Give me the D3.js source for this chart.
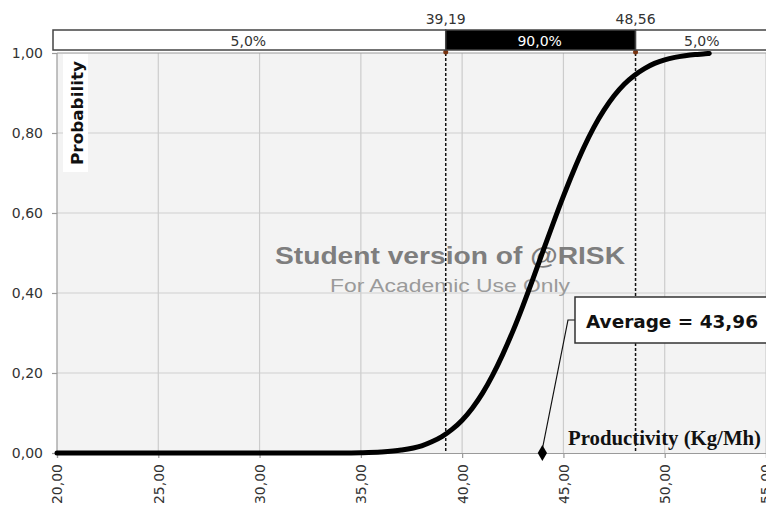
<!DOCTYPE html>
<html><head><meta charset="utf-8">
<script src="https://cdn.jsdelivr.net/npm/d3@7"></script>
<style>body{margin:0;background:#fff}svg{display:block}</style>
</head><body>
<svg id="c" width="766" height="508"></svg>
<script>
// ---- data ----
const xVals = [20, 30, 34, 35, 36, 37, 38, 38.5, 39, 39.5, 40, 40.5, 41, 41.5, 42, 42.5, 43, 43.5, 44, 44.5, 45, 45.5, 46, 46.5, 47, 47.5, 48, 48.5, 49, 49.5, 50, 50.5, 51, 51.5, 52, 52.2];
const cumProb = [0, 0, 0.0002, 0.0008, 0.0026, 0.0073, 0.018, 0.028, 0.041, 0.059, 0.082, 0.112, 0.149, 0.194, 0.246, 0.304, 0.368, 0.436, 0.506, 0.575, 0.642, 0.705, 0.763, 0.814, 0.857, 0.893, 0.922, 0.944, 0.961, 0.974, 0.983, 0.989, 0.993, 0.996, 0.998, 0.999];
const xTicks = [20, 25, 30, 35, 40, 45, 50, 55];
const yTicks = [0, 0.2, 0.4, 0.6, 0.8, 1.0];
const lowerBound = 39.19, upperBound = 48.56, average = 43.96;
const bandLabels = ["5,0%", "90,0%", "5,0%"];
const fmt = v => d3.format(".2f")(v).replace(".", ",");

const svg = d3.select("#c");
const x = d3.scaleLinear().domain([20, 55]).range([57, 766]);
const y = d3.scaleLinear().domain([0, 1]).range([453, 53]);
const FONT = "DejaVu Sans, Verdana, sans-serif";

// plot background
svg.append("rect").attr("x", x(20)).attr("y", y(1)).attr("width", x(55) - x(20)).attr("height", y(0) - y(1)).attr("fill", "#f3f3f3");

// gridlines
svg.append("g").selectAll("line").data(yTicks.filter(d => d > 0 && d < 1)).join("line")
  .attr("x1", x(20)).attr("x2", x(55)).attr("y1", d => y(d)).attr("y2", d => y(d))
  .attr("stroke", "#d0d0d0").attr("stroke-width", 1.2);
svg.append("g").selectAll("line").data(xTicks.filter(d => d > 20)).join("line")
  .attr("x1", d => x(d)).attr("x2", d => x(d)).attr("y1", y(1)).attr("y2", y(0))
  .attr("stroke", "#cccccc").attr("stroke-width", 1.2);

// axes
const yAxis = svg.append("g").attr("transform", `translate(${x(20)},0)`)
  .call(d3.axisLeft(y).tickValues(yTicks).tickFormat(fmt).tickSize(5).tickPadding(9));
const xAxis = svg.append("g").attr("transform", `translate(0,${y(0)})`)
  .call(d3.axisBottom(x).tickValues(xTicks).tickFormat(fmt).tickSize(5).tickPadding(4));
[yAxis, xAxis].forEach(g => {
  g.selectAll("path,line").attr("stroke", "#9a9a9a").attr("stroke-width", 1.2);
  g.selectAll("text").attr("font-family", FONT).attr("font-size", 14).attr("fill", "#333");
});
yAxis.select(".domain").attr("d", `M0,${y(1)}V${y(0)}`);
xAxis.selectAll("text").attr("transform", "rotate(-90)").attr("text-anchor", "end")
  .attr("x", -11).attr("y", 0).attr("dy", "0.35em");

// top border line of plot
svg.append("line").attr("x1", x(20)).attr("x2", x(55)).attr("y1", y(1)).attr("y2", y(1)).attr("stroke", "#9a9a9a");

// y label
svg.append("rect").attr("x", 63).attr("y", 54).attr("width", 25).attr("height", 118).attr("fill", "#fff");
svg.append("text").attr("transform", "translate(83,113) rotate(-90)").attr("text-anchor", "middle")
  .attr("font-family", FONT).attr("font-weight", "bold").attr("font-size", 16.5).attr("fill", "#111")
  .attr("textLength", 104).attr("lengthAdjust", "spacingAndGlyphs")
  .text("Probability");

// watermark
svg.append("text").attr("x", 450).attr("y", 264).attr("text-anchor", "middle")
  .attr("font-family", "Liberation Sans, Arial, sans-serif").attr("font-weight", "bold").attr("font-size", 24)
  .attr("fill", "#7e7e7e").attr("textLength", 350).attr("lengthAdjust", "spacingAndGlyphs").text("Student version of @RISK");
svg.append("text").attr("x", 450).attr("y", 292).attr("text-anchor", "middle")
  .attr("font-family", "Liberation Sans, Arial, sans-serif").attr("font-size", 19)
  .attr("fill", "#9a9a9a").attr("textLength", 240).attr("lengthAdjust", "spacingAndGlyphs").text("For Academic Use Only");

// dashed bound lines
svg.append("g").selectAll("line").data([lowerBound, upperBound]).join("line")
  .attr("x1", d => x(d)).attr("x2", d => x(d)).attr("y1", y(1)).attr("y2", y(0))
  .attr("stroke", "#111").attr("stroke-width", 1.5).attr("stroke-dasharray", "3,2");

// curve
const line = d3.line().x((d, i) => x(xVals[i])).y(d => y(d)).curve(d3.curveMonotoneX);
svg.append("path").datum(cumProb).attr("d", line).attr("fill", "none").attr("stroke", "#000")
  .attr("stroke-width", 5).attr("stroke-linecap", "round");

// bound markers
svg.append("g").selectAll("circle").data([lowerBound, upperBound]).join("circle")
  .attr("cx", d => x(d)).attr("cy", y(1) - 1).attr("r", 2.5).attr("fill", "#7a3410");

// top band bar
const bandY = 30, bandH = 20;
const bands = [[x(20) - 4, x(lowerBound)], [x(lowerBound), x(upperBound)], [x(upperBound), 770]];
svg.append("g").selectAll("rect").data(bands).join("rect")
  .attr("x", d => d[0]).attr("y", bandY).attr("width", d => d[1] - d[0]).attr("height", bandH)
  .attr("fill", (d, i) => i === 1 ? "#000" : "#fff").attr("stroke", "#444").attr("stroke-width", 1.5);
svg.append("g").selectAll("text").data(bands).join("text")
  .attr("x", d => (d[0] + d[1]) / 2 - 1).attr("y", bandY + 16).attr("text-anchor", "middle")
  .attr("font-family", FONT).attr("font-size", 14)
  .attr("fill", (d, i) => i === 1 ? "#fff" : "#333").text((d, i) => bandLabels[i]);
svg.append("g").selectAll("text").data([lowerBound, upperBound]).join("text")
  .attr("x", d => x(d)).attr("y", 24).attr("text-anchor", "middle")
  .attr("font-family", FONT).attr("font-size", 14).attr("fill", "#333")
  .text(d => fmt(d));

// x-axis title
svg.append("text").attr("x", 568).attr("y", 445)
  .attr("font-family", "Liberation Serif, Times New Roman, serif").attr("font-weight", "bold").attr("font-size", 20)
  .attr("fill", "#111").attr("textLength", 193).attr("lengthAdjust", "spacingAndGlyphs").text("Productivity (Kg/Mh)");

// average callout
const ax = x(average);
svg.append("path").attr("d", `M${ax},${y(0) - 4}L568,320H576`).attr("fill", "none").attr("stroke", "#111").attr("stroke-width", 1.2);
svg.append("path").attr("d", d3.symbol().type(d3.symbolDiamond).size(75)()).attr("transform", `translate(${ax},${y(0)})`).attr("fill", "#000");
svg.append("rect").attr("x", 575).attr("y", 297).attr("width", 192).attr("height", 46).attr("fill", "#fff").attr("stroke", "#333").attr("stroke-width", 1.5);
svg.append("text").attr("x", 586).attr("y", 328)
  .attr("font-family", FONT).attr("font-weight", "bold").attr("font-size", 18).attr("fill", "#111")
  .attr("textLength", 172).attr("lengthAdjust", "spacingAndGlyphs").text("Average = " + fmt(average));
</script>
</body></html>
